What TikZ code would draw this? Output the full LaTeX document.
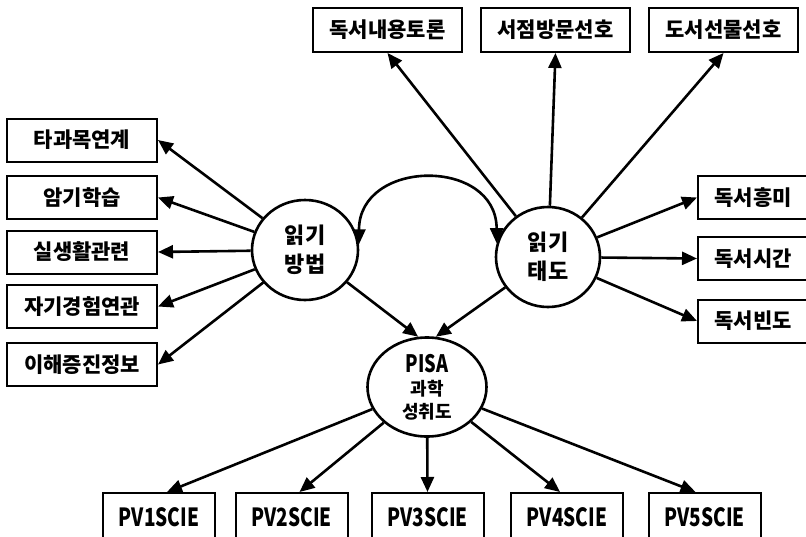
\documentclass[tikz,border=0pt]{standalone}
\usepackage{fontspec}
\setmainfont{Noto Sans CJK KR}
\usepackage{graphicx}
\usetikzlibrary{arrows.meta,shapes.geometric}
\newcommand{\lat}[1]{\scalebox{0.76}[1]{#1}}
\begin{document}
\begin{tikzpicture}[x=1pt,y=-1pt,
  box/.style={draw, line width=2pt, rectangle, inner sep=0pt, minimum height=43pt,
    font=\bfseries\fontsize{21}{24}\selectfont},
  lbox/.style={box, minimum width=150pt},
  tbox/.style={box, minimum width=149pt, minimum height=44pt},
  rbox/.style={box, minimum width=110pt},
  pvbox/.style={box, minimum width=112pt, minimum height=48pt,
    font=\bfseries\fontsize{25}{28}\selectfont},
  latent/.style={draw, ellipse, line width=2.6pt, inner sep=0pt, align=center,
    font=\bfseries\fontsize{22}{29}\selectfont},
  arr/.style={line width=2.6pt, -{Triangle[length=15pt,width=13pt]}},
  darr/.style={line width=2.6pt, {Triangle[length=15pt,width=13pt]}-{Triangle[length=15pt,width=13pt]}}
]
\path[use as bounding box, clip] (0,0) rectangle (806,536);

% latent variables
\node[latent, minimum width=106pt, minimum height=100pt] (m) at (305,250) {읽기\\방법};
\node[latent, minimum width=104pt, minimum height=100pt] (a) at (548,257) {읽기\\태도};
\node[latent, minimum width=119pt, minimum height=99pt, font=\bfseries\fontsize{18}{23}\selectfont] (p) at (427,387)
  {{\fontsize{24}{23}\selectfont\lat{PISA}}\\과학\\성취도};

% left boxes
\node[lbox] (l1) at (82,140) {타과목연계};
\node[lbox] (l2) at (82,197.5) {암기학습};
\node[lbox] (l3) at (82,252) {실생활관련};
\node[lbox] (l4) at (82,306.5) {자기경험연관};
\node[lbox] (l5) at (82,364.5) {이해증진정보};

% top boxes
\node[tbox] (t1) at (387.5,30) {독서내용토론};
\node[tbox] (t2) at (555.5,30) {서점방문선호};
\node[tbox] (t3) at (723.5,30) {도서선물선호};

% right boxes
\node[rbox] (r1) at (753,197.5) {독서흥미};
\node[rbox] (r2) at (753,258.5) {독서시간};
\node[rbox] (r3) at (753,321) {독서빈도};

% bottom boxes
\node[pvbox] (v1) at (159,517) {\lat{PV1SCIE}};
\node[pvbox] (v2) at (291.5,517) {\lat{PV2SCIE}};
\node[pvbox] (v3) at (427.5,517) {\lat{PV3SCIE}};
\node[pvbox] (v4) at (567,517) {\lat{PV4SCIE}};
\node[pvbox] (v5) at (704.5,517) {\lat{PV5SCIE}};

% connectors
\foreach \b in {l1,l2,l3,l4,l5} \draw[arr] (m) -- (\b.east);
\foreach \b in {t1,t2,t3} \draw[arr] (a) -- (\b.south);
\foreach \b in {r1,r2,r3} \draw[arr] (a) -- (\b.west);
\draw[arr] (m) -- (p.100);
\draw[arr] (a) -- (p.80);
\draw[arr] (p) -- ([xshift=8pt]v1.north);
\draw[arr] (p) -- ([xshift=8pt]v2.north);
\draw[arr] (p) -- (v3.north);
\draw[arr] (p) -- ([xshift=-7pt]v4.north);
\draw[arr] (p) -- ([xshift=-9pt]v5.north);
\draw[darr] (m.6) .. controls +(0,-86) and +(0,-86) .. (a.165);
\end{tikzpicture}
\end{document}
